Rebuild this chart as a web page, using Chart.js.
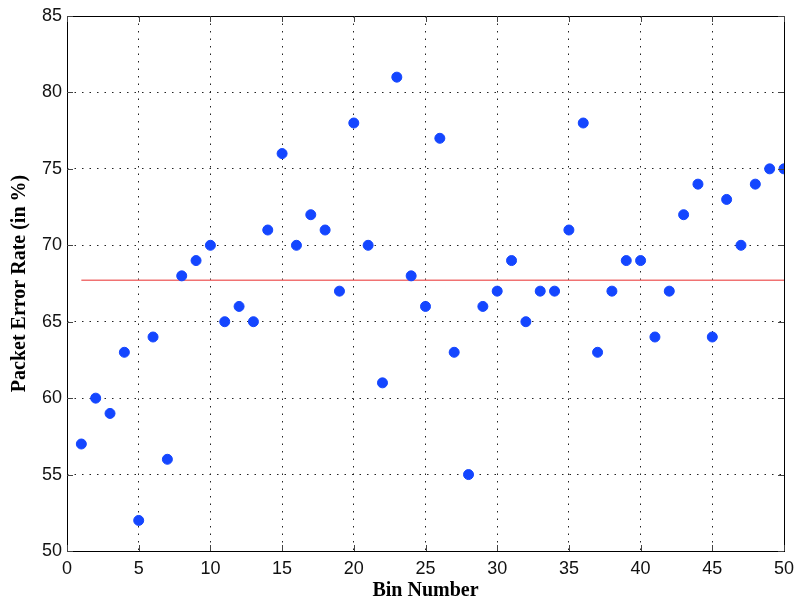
<!DOCTYPE html>
<html>
<head>
<meta charset="utf-8">
<script src="https://cdn.jsdelivr.net/npm/chart.js@4/dist/chart.umd.min.js"></script>
<style>
  html, body { margin: 0; padding: 0; background: #fff; }
  #wrap { width: 796px; height: 603px; }
</style>
</head>
<body>
<div id="wrap"><canvas id="perChart" width="796" height="603"></canvas></div>
<script>
// bin numbers and packet error rate
const bins = [1, 2, 3, 4, 5, 6, 7, 8, 9, 10,
  11, 12, 13, 14, 15, 16, 17, 18, 19, 20,
  21, 22, 23, 24, 25, 26, 27, 28, 29, 30,
  31, 32, 33, 34, 35, 36, 37, 38, 39, 40,
  41, 42, 43, 44, 45, 46, 47, 48, 49, 50];
const errorRate = [57, 60, 59, 63, 52, 64, 56, 68, 69, 70,
  65, 66, 65, 71, 76, 70, 72, 71, 67, 78,
  70, 61, 81, 68, 66, 77, 63, 55, 66, 67,
  69, 65, 67, 67, 71, 78, 63, 67, 69, 69,
  64, 67, 72, 74, 64, 73, 70, 74, 75, 75];
// mean level (red line)
const meanBins = [1, 50];
const meanRate = [67.72, 67.72];

const xTicks = [0, 5, 10, 15, 20, 25, 30, 35, 40, 45, 50];
const yTicks = [50, 55, 60, 65, 70, 75, 80, 85];

const points = bins.map((b, i) => ({ x: b, y: errorRate[i] }));
const meanLine = meanBins.map((b, i) => ({ x: b, y: meanRate[i] }));

// box around the plot plus small inward ticks, matlab style
const framePlugin = {
  id: 'frame',
  afterDatasetsDraw(chart) {
    const { ctx, chartArea: a, scales } = chart;
    ctx.save();
    ctx.strokeStyle = '#000';
    ctx.lineWidth = 1;
    ctx.strokeRect(a.left + 0.5, a.top + 0.5, a.right - a.left, a.bottom - a.top);
    ctx.strokeStyle = '#444';
    ctx.beginPath();
    xTicks.forEach(v => {
      const px = Math.round(scales.x.getPixelForValue(v)) + 0.5;
      ctx.moveTo(px, a.bottom); ctx.lineTo(px, a.bottom - 6);
      ctx.moveTo(px, a.top); ctx.lineTo(px, a.top + 6);
    });
    yTicks.forEach(v => {
      const py = Math.round(scales.y.getPixelForValue(v)) + 0.5;
      ctx.moveTo(a.left, py); ctx.lineTo(a.left + 6, py);
      ctx.moveTo(a.right, py); ctx.lineTo(a.right - 6, py);
    });
    ctx.stroke();
    ctx.restore();
  }
};

const tickFont = { family: '"Liberation Sans", Arial, sans-serif', size: 18 };
const titleFont = { family: '"Liberation Serif", "Times New Roman", serif', size: 20, weight: 'bold' };

new Chart(document.getElementById('perChart').getContext('2d'), {
  type: 'scatter',
  data: {
    datasets: [
      {
        label: 'Packet error rate',
        data: points,
        backgroundColor: '#1446ff',
        borderColor: '#1446ff',
        pointRadius: 5,
        pointHoverRadius: 5,
        order: 1
      },
      {
        label: 'Mean',
        type: 'line',
        data: meanLine,
        borderColor: '#f07272',
        borderWidth: 1.5,
        pointRadius: 0,
        fill: false,
        order: 2
      }
    ]
  },
  options: {
    responsive: false,
    animation: false,
    layout: { padding: { top: 16, right: 12, left: 0, bottom: 0 } },
    plugins: {
      legend: { display: false },
      tooltip: { enabled: false }
    },
    scales: {
      x: {
        type: 'linear',
        min: 0,
        max: 50,
        afterFit: s => { s.height = 52; s.paddingLeft = 0; s.paddingRight = 0; },
        afterBuildTicks: s => { s.ticks = xTicks.map(v => ({ value: v })); },
        border: { display: false, dash: [1.5, 6] },
        grid: { color: '#222', lineWidth: 1, drawTicks: false },
        ticks: { font: tickFont, color: '#111', padding: 7, maxRotation: 0 },
        title: { display: true, text: 'Bin Number', font: titleFont, color: '#000', padding: { top: 2, bottom: 0 } }
      },
      y: {
        type: 'linear',
        min: 50,
        max: 85,
        afterFit: s => { s.width = 67; s.paddingTop = 0; s.paddingBottom = 0; },
        afterBuildTicks: s => { s.ticks = yTicks.map(v => ({ value: v })); },
        border: { display: false, dash: [1.5, 6] },
        grid: { color: '#222', lineWidth: 1, drawTicks: false },
        ticks: { font: tickFont, color: '#111', padding: 5 },
        title: { display: true, text: 'Packet Error Rate (in %)', font: titleFont, color: '#000', padding: { top: 8, bottom: 4 } }
      }
    }
  },
  plugins: [framePlugin]
});
</script>
</body>
</html>
